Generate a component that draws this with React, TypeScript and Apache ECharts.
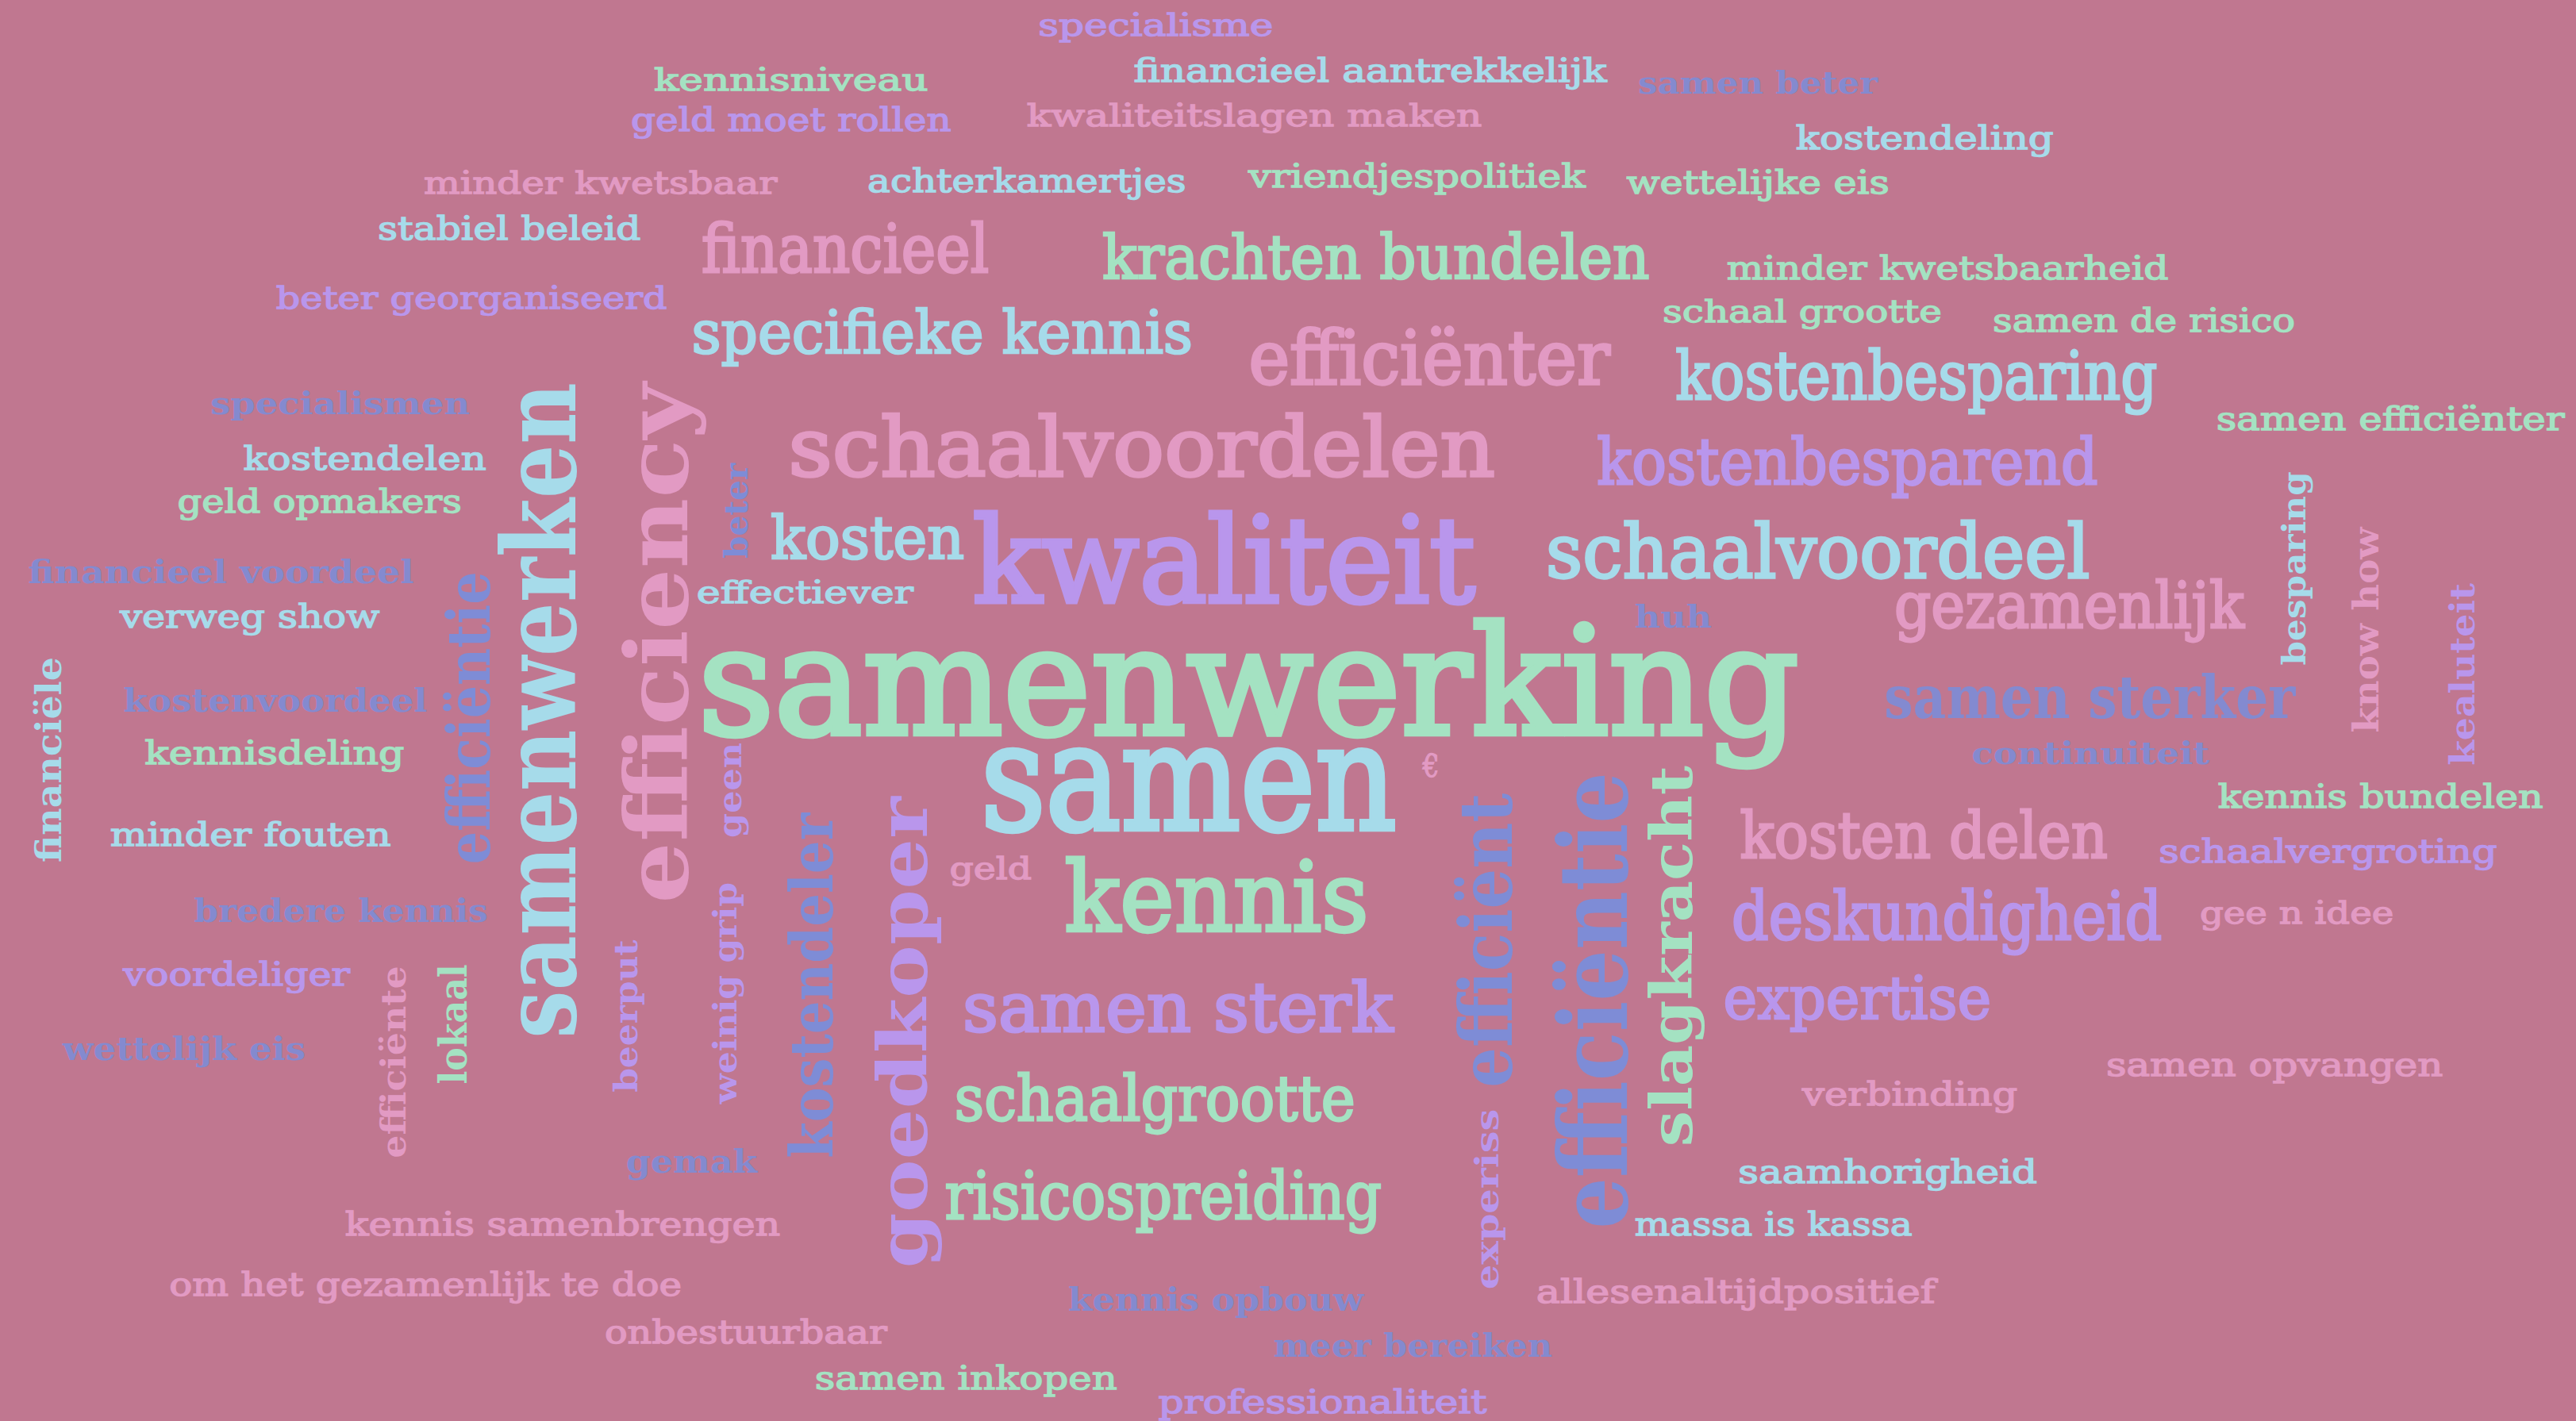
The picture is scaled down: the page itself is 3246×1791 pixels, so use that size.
import React, { useEffect, useRef } from "react";
import * as echarts from "echarts";

// Word cloud content (Dutch answers) and their weight (font size in layout units)
const words: string[] = [
  "specialisme", "kennisniveau", "financieel aantrekkelijk", "samen beter", "geld moet rollen",
  "kwaliteitslagen maken", "kostendeling", "minder kwetsbaar", "achterkamertjes", "vriendjespolitiek",
  "wettelijke eis", "stabiel beleid", "financieel", "krachten bundelen", "minder kwetsbaarheid",
  "beter georganiseerd", "schaal grootte", "samen de risico", "specifieke kennis", "efficiënter",
  "kostenbesparing", "specialismen", "samen efficiënter", "schaalvoordelen", "kostendelen",
  "kostenbesparend", "geld opmakers", "samenwerken", "efficiency", "beter",
  "kosten", "kwaliteit", "schaalvoordeel", "financieel voordeel", "effectiever",
  "verweg show", "huh", "gezamenlijk", "besparing", "know how",
  "kealuteit", "samenwerking", "financiële", "efficiëntie", "kostenvoordeel",
  "samen sterker", "kennisdeling", "continuiteit", "geen", "€",
  "samen", "kennis bundelen", "minder fouten", "kosten delen", "schaalvergroting",
  "goedkoper", "kostendeler", "geld", "kennis", "efficiënt",
  "efficiëntie", "slagkracht", "bredere kennis", "deskundigheid", "gee n idee",
  "weinig grip", "beerput", "voordeliger", "efficiënte", "lokaal",
  "samen sterk", "expertise", "wettelijk eis", "samen opvangen", "schaalgrootte",
  "verbinding", "gemak", "saamhorigheid", "risicospreiding", "experiss",
  "massa is kassa", "kennis samenbrengen", "om het gezamenlijk te doe", "allesenaltijdpositief", "kennis opbouw",
  "onbestuurbaar", "meer bereiken", "samen inkopen", "professionaliteit",
];

const weights: number[] = [
  19, 19, 20, 19, 20,
  19, 20, 19, 20, 20,
  20, 20, 41, 37, 20,
  19, 19, 20, 36, 45,
  41, 19, 20, 50, 20,
  39, 20, 62, 52, 20,
  36, 72, 45, 20, 19,
  20, 19, 39, 20, 22,
  21, 91, 22, 36, 20,
  36, 20, 19, 20, 19,
  90, 20, 20, 39, 20,
  42, 36, 19, 59, 44,
  58, 35, 20, 41, 19,
  20, 20, 20, 21, 23,
  42, 36, 20, 20, 38,
  20, 20, 20, 40, 20,
  20, 20, 20, 20, 20,
  20, 20, 20, 20,
];

// colour group per word: 0 mint, 1 light blue, 2 pink, 3 lavender, 4 periwinkle
const colorGroup: number[] = [
  3, 0, 1, 4, 3,
  2, 1, 2, 1, 0,
  0, 1, 2, 0, 0,
  3, 0, 0, 1, 2,
  1, 4, 0, 2, 1,
  3, 0, 1, 2, 4,
  1, 3, 1, 4, 1,
  1, 4, 2, 1, 2,
  3, 0, 1, 4, 4,
  4, 0, 4, 3, 2,
  1, 0, 1, 2, 3,
  3, 4, 2, 0, 4,
  4, 0, 4, 3, 2,
  3, 3, 3, 2, 0,
  3, 3, 4, 2, 0,
  2, 4, 1, 0, 3,
  1, 2, 2, 2, 4,
  2, 4, 0, 3,
];

// layout (in a 1568 x 865 layout space): [a, b, length, rotation]
// rotation 0: a = centre x, b = baseline y; rotation 90: a = baseline x, b = centre y
const layout: [number, number, number, number][] = [
  [703.5, 22, 143, 0], [481.5, 55, 167, 0], [834, 50, 288, 0], [1070, 57, 146, 0], [481.5, 80, 195, 0],
  [763.5, 77, 277, 0], [1171.5, 91, 157, 0], [365.5, 118, 215, 0], [625, 117, 194, 0], [862.5, 114, 205, 0],
  [1070, 118, 160, 0], [310, 146, 160, 0], [514.5, 166, 175, 0], [837.5, 170, 333, 0], [1185.5, 170, 269, 0],
  [287, 188, 238, 0], [1097, 196, 170, 0], [1305, 202, 184, 0], [573.5, 215, 305, 0], [870, 234, 220, 0],
  [1166.5, 243, 293, 0], [207, 252, 158, 0], [1455, 262, 212, 0], [695, 290, 430, 0], [222, 286, 148, 0],
  [1124.5, 295, 305, 0], [194.5, 312, 173, 0], [350, 432.5, 399, 90], [418, 391.5, 317, 90], [455, 311, 58, 90],
  [528, 340, 118, 0], [745, 367, 306, 0], [1106.5, 352, 331, 0], [134.5, 355, 235, 0], [490, 367, 132, 0],
  [152, 382, 158, 0], [1018.5, 382, 47, 0], [1259.5, 382, 213, 0], [1403, 346, 118, 90], [1448, 383.5, 125, 90],
  [1506, 410.5, 111, 90], [760, 447, 670, 0], [37, 462.5, 125, 90], [298, 437, 178, 90], [167.5, 433, 185, 0],
  [1272, 437, 250, 0], [167, 465, 158, 0], [1272.5, 465, 145, 0], [451, 481, 58, 90], [871, 473, 10, 0],
  [723.5, 505, 253, 0], [1449, 492, 198, 0], [152.5, 515, 171, 0], [1171, 522, 224, 0], [1417, 525, 206, 0],
  [564, 628.5, 287, 90], [507, 600, 210, 90], [603, 535, 50, 0], [740.5, 567, 185, 0], [920, 572.5, 179, 90],
  [990, 609, 278, 90], [1030, 582, 232, 90], [207.5, 561, 179, 0], [1185, 572, 262, 0], [1398, 562, 118, 0],
  [448.5, 604.5, 135, 90], [388, 618.5, 93, 90], [144, 600, 138, 0], [247, 646.5, 117, 90], [284, 623.5, 73, 90],
  [717, 628, 262, 0], [1130.5, 620, 163, 0], [112, 645, 148, 0], [1384.5, 655, 205, 0], [703, 682, 244, 0],
  [1162.5, 673, 131, 0], [421, 714, 80, 0], [1149, 720, 182, 0], [708, 742, 266, 0], [912, 730, 110, 90],
  [1079.5, 752, 169, 0], [342.5, 752, 265, 0], [259, 789, 312, 0], [1056.5, 793, 243, 0], [740, 798, 180, 0],
  [454, 818, 172, 0], [860, 826, 170, 0], [588, 846, 184, 0], [805, 860, 200, 0],
];

const palette = ["#a4e2c2", "#a6dbea", "#e29ac3", "#b996ec", "#7e8cd6"];
const FONT = "DejaVu Serif";

export default function App() {
  const ref = useRef<HTMLDivElement>(null);

  useEffect(() => {
    document.body.style.margin = "0";
    if (!ref.current) return;
    const chart = echarts.init(ref.current, undefined, { renderer: "svg" });
    const canvas = document.createElement("canvas");
    const ctx = canvas.getContext("2d")!;

    const data = words.map((w, i) => {
      const [a, b, , rot] = layout[i];
      const fs = weights[i];
      const cx = rot === 90 ? a - 0.35 * fs : a;
      const cy = rot === 90 ? b : b - 0.35 * fs;
      return [cx, cy, i];
    });

    const renderItem = (params: any, api: any) => {
      const i = api.value(2);
      const p = api.coord([api.value(0), api.value(1)]);
      const vertical = layout[i][3] === 90;
      const fsPx = api.size([weights[i], weights[i]])[1];
      const lenPx = vertical ? api.size([0, layout[i][2]])[1] : api.size([layout[i][2], 0])[0];
      const c = colorGroup[i];
      const blurred = c === 4 && !vertical;
      const weight = c === 4 || vertical ? "bold" : "normal";
      ctx.font = `${weight} ${fsPx}px "${FONT}"`;
      const mw = ctx.measureText(words[i]).width || 1;
      const sx = lenPx / mw;
      const style: any = {
        text: words[i],
        fontSize: fsPx,
        fontFamily: FONT,
        fontWeight: weight,
        fill: palette[c],
        align: "center",
        verticalAlign: "middle",
      };
      if (weight === "normal") {
        style.stroke = palette[c];
        style.lineWidth = fsPx * 0.035;
      }
      if (blurred) {
        style.shadowBlur = 5;
        style.shadowColor = palette[c];
        style.opacity = 0.92;
      }
      return {
        type: "text",
        x: p[0],
        y: p[1],
        rotation: vertical ? Math.PI / 2 : 0,
        scaleX: sx,
        scaleY: 1,
        style,
      };
    };

    chart.setOption({
      animation: false,
      backgroundColor: "#c07790",
      grid: { left: 0, right: 0, top: 0, bottom: 0 },
      xAxis: { type: "value", min: 0, max: 1568, show: false },
      yAxis: { type: "value", min: 0, max: 865, inverse: true, show: false },
      series: [
        {
          type: "custom",
          coordinateSystem: "cartesian2d",
          renderItem,
          data,
          clip: false,
        },
      ],
    });
    return () => chart.dispose();
  }, []);

  return <div ref={ref} style={{ width: 3246, height: 1791 }} />;
}
